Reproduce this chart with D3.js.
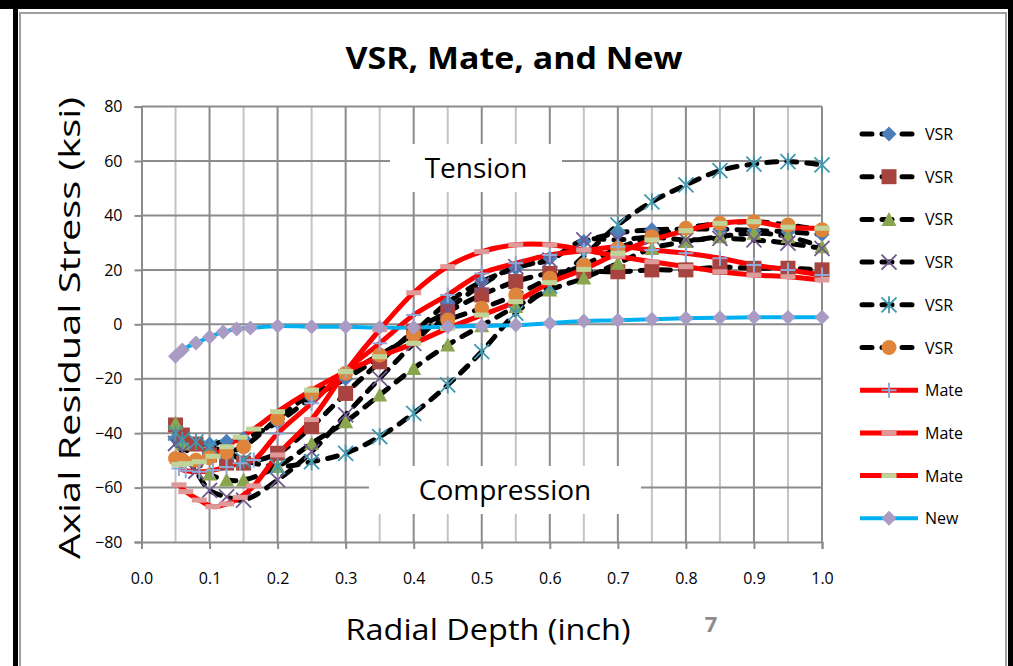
<!DOCTYPE html>
<html>
<head>
<meta charset="utf-8">
<script src="https://cdn.jsdelivr.net/npm/d3@7"></script>
<style>
  body { margin: 0; background: #fff; }
  svg { display: block; }
  text { font-family: "Open Sans", "Noto Sans", sans-serif; }
</style>
</head>
<body>
<div id="chart"></div>
<script>
// depths (inch) where the markers sit
const vsrDepth = [0.05, 0.06, 0.08, 0.1, 0.125, 0.15, 0.2, 0.25, 0.3, 0.35, 0.4, 0.45, 0.5, 0.55, 0.6, 0.65, 0.7, 0.75, 0.8, 0.85, 0.9, 0.95, 1.0];
const mateDepth = [0.055, 0.065, 0.085, 0.105, 0.125, 0.145, 0.165, 0.2, 0.25, 0.3, 0.35, 0.4, 0.45, 0.5, 0.55, 0.6, 0.65, 0.7, 0.75, 0.8, 0.85, 0.9, 0.95, 1.0];
const newDepth = [0.05, 0.06, 0.08, 0.1, 0.12, 0.14, 0.16, 0.2, 0.25, 0.3, 0.35, 0.4, 0.45, 0.5, 0.55, 0.6, 0.65, 0.7, 0.75, 0.8, 0.85, 0.9, 0.95, 1.0];

// axial residual stress (ksi)
const vsr1 = [-42, -43, -44, -44, -43, -42, -36, -27, -20, -12, -3, 8, 15.7, 20.6, 24.3, 30.4, 33.5, 34.7, 35, 35, 34.5, 34, 33];
const vsr2 = [-37, -40.7, -44, -48, -51, -51, -47.4, -37.6, -25.4, -13.8, -2.7, 4.6, 10.8, 15.7, 18.7, 19.5, 19.3, 20, 20, 21, 20.6, 20.6, 20];
const vsr3 = [-36.4, -44, -50, -55, -57.2, -57.2, -52.3, -43.8, -35.8, -26, -16.2, -7.6, -0.5, 6.5, 12.6, 17, 22.4, 27.9, 30.4, 32.2, 33.5, 32.2, 28.5];
const vsr4 = [-43.8, -46.8, -54, -61, -63.4, -64.6, -57.2, -46.8, -33.3, -19.9, -7, 5.3, 14.5, 21.2, 23.6, 31, 31, 32, 31, 31.6, 31, 29.8, 27.9];
const vsr5 = [-40, -42.5, -43.2, -45, -47, -49.9, -52.3, -50.5, -47.4, -41.3, -32.7, -22.3, -10, 4.1, 14, 25, 36.5, 45, 51.2, 56.5, 58.9, 59.8, 58.6];
const vsr6 = [-49.3, -50, -50, -49, -47, -45, -34.6, -25.4, -18, -11.3, -3.9, 1.6, 5.9, 10.8, 16.9, 21.8, 27.9, 32.2, 35.3, 37.1, 37.7, 36.5, 34.7];
const mate1 = [-53, -53.8, -54.2, -53.6, -52.4, -51.1, -49.9, -40.1, -29, -17, -7, 3.4, 10.8, 18.7, 22.4, 25.5, 27, 28.5, 27.3, 26.1, 24.3, 21.8, 20, 18.1];
const mate2 = [-59, -61.5, -64.6, -67, -66, -63.6, -59.4, -48, -35, -17.4, -2, 11.6, 21.2, 26.7, 29.2, 29.2, 27.3, 25, 23, 21.2, 19.3, 18.1, 17.5, 16.3];
const mate3 = [-51.5, -51.2, -50.5, -48.5, -45, -41.5, -38.5, -32.1, -24.2, -17.4, -11.9, -7, -1.5, 3.4, 8.3, 15.3, 20.2, 26.1, 31, 34.4, 37.1, 37.7, 35.7, 35.3];
const newSeries = [-11.7, -9.4, -6.9, -4.7, -2.8, -1.7, -1.4, -0.6, -0.9, -0.9, -1.2, -1.2, -0.9, -0.6, -0.3, 0.4, 1.2, 1.5, 1.9, 2.2, 2.4, 2.6, 2.6, 2.6];

const xTicks = [0, 0.1, 0.2, 0.3, 0.4, 0.5, 0.6, 0.7, 0.8, 0.9, 1.0];
const yTicks = [-80, -60, -40, -20, 0, 20, 40, 60, 80];

const W = 1013, H = 666;

const series = [
  {name: "VSR",  depth: vsrDepth,  values: vsr1, line: "vsr", marker: "diamond",  color: "#4a7dba"},
  {name: "VSR",  depth: vsrDepth,  values: vsr2, line: "vsr", marker: "square",   color: "#a8443f"},
  {name: "VSR",  depth: vsrDepth,  values: vsr3, line: "vsr", marker: "triangle", color: "#89a54e"},
  {name: "VSR",  depth: vsrDepth,  values: vsr4, line: "vsr", marker: "x",        color: "#71588f"},
  {name: "VSR",  depth: vsrDepth,  values: vsr5, line: "vsr", marker: "star",     color: "#4198af"},
  {name: "VSR",  depth: vsrDepth,  values: vsr6, line: "vsr", marker: "circle",   color: "#de853b"},
  {name: "Mate", depth: mateDepth, values: mate1, line: "mate", marker: "plus",   color: "#8eaad8"},
  {name: "Mate", depth: mateDepth, values: mate2, line: "mate", marker: "bar",    color: "#dd9a99"},
  {name: "Mate", depth: mateDepth, values: mate3, line: "mate", marker: "bar",    color: "#c0d49a"},
  {name: "New",  depth: newDepth,  values: newSeries, line: "new", marker: "diamond", color: "#a99bc4"}
];

const svg = d3.select("#chart").append("svg")
  .attr("width", W).attr("height", H)
  .attr("viewBox", [0, 0, W, H]);

// frame
svg.append("rect").attr("x", 0).attr("y", 0).attr("width", W).attr("height", 9).attr("fill", "#000");
svg.append("rect").attr("x", 13).attr("y", 0).attr("width", 5).attr("height", H).attr("fill", "#000");
svg.append("rect").attr("x", 1008).attr("y", 0).attr("width", 5).attr("height", H).attr("fill", "#000");
svg.append("path").attr("d", `M20,${H}V13H1006V${H}`).attr("fill", "none").attr("stroke", "#a0a0a0").attr("stroke-width", 2);

const x = d3.scaleLinear().domain([0, 1]).range([141.5, 822]);
const y = d3.scaleLinear().domain([-80, 80]).range([542, 106.6]);

// gridlines
const grid = svg.append("g");
grid.selectAll(".minor").data(d3.range(0.05, 1, 0.1)).join("line")
  .attr("x1", d => x(d)).attr("x2", d => x(d))
  .attr("y1", y(80)).attr("y2", y(-80))
  .attr("stroke", "#c4c4c4").attr("stroke-width", 2);
grid.selectAll(".major").data(xTicks.slice(1)).join("line")
  .attr("x1", d => x(d)).attr("x2", d => x(d))
  .attr("y1", y(80)).attr("y2", y(-80))
  .attr("stroke", "#8c8c8c").attr("stroke-width", 2);
grid.selectAll(".h").data(yTicks.slice(1)).join("line")
  .attr("x1", x(0)).attr("x2", x(1))
  .attr("y1", d => y(d)).attr("y2", d => y(d))
  .attr("stroke", "#8c8c8c").attr("stroke-width", 2);

// axes
const yAxis = svg.append("g").attr("transform", `translate(${x(0)},0)`)
  .call(d3.axisLeft(y).tickValues(yTicks).tickSize(7).tickPadding(12).tickFormat(d3.format("d")));
const xAxis = svg.append("g").attr("transform", `translate(0,${y(-80)})`)
  .call(d3.axisBottom(x).tickValues(xTicks).tickSize(7).tickPadding(24).tickFormat(d3.format(".1f")));
[yAxis, xAxis].forEach(a => {
  a.select(".domain").attr("stroke", "#8c8c8c").attr("stroke-width", 2);
  a.selectAll(".tick line").attr("stroke", "#8c8c8c").attr("stroke-width", 2);
  a.selectAll(".tick text").attr("fill", "#000").style("font-size", "16px")
    .style("font-family", "'Open Sans', sans-serif");
});

// region labels with white boxes
const boxes = [
  {text: "Tension", cx: 476, cy: 168, w: 172, h: 48},
  {text: "Compression", cx: 505, cy: 490, w: 272, h: 48}
];
boxes.forEach(b => {
  svg.append("rect").attr("x", b.cx - b.w / 2).attr("y", b.cy - b.h / 2)
    .attr("width", b.w).attr("height", b.h).attr("fill", "#fff");
  svg.append("text").attr("x", b.cx).attr("y", b.cy + 10).attr("text-anchor", "middle")
    .style("font-size", "28px").text(b.text);
});

const lineGen = d3.line().x(d => x(d[0])).y(d => y(d[1])).curve(d3.curveCatmullRom.alpha(0.5));

const lineStyle = {
  vsr:  {stroke: "#000", width: 5, dash: "10,10"},
  mate: {stroke: "#ff0000", width: 5, dash: null},
  new:  {stroke: "#00b0f0", width: 4, dash: null}
};

function styleLine(sel, kind) {
  const st = lineStyle[kind];
  sel.attr("fill", "none").attr("stroke", st.stroke).attr("stroke-width", st.width)
    .attr("stroke-linecap", st.dash ? "round" : "butt")
    .attr("stroke-dasharray", st.dash);
}

function drawMarker(g, type, color) {
  const s = 7.5;
  switch (type) {
    case "diamond":
      g.append("path").attr("d", `M0,${-s}L${s},0L0,${s}L${-s},0Z`).attr("fill", color); break;
    case "square":
      g.append("rect").attr("x", -s).attr("y", -s).attr("width", 2 * s).attr("height", 2 * s).attr("fill", color); break;
    case "triangle":
      g.append("path").attr("d", `M0,${-s}L${s},${s - 1}L${-s},${s - 1}Z`).attr("fill", color); break;
    case "circle":
      g.append("circle").attr("r", s).attr("fill", color); break;
    case "x":
      g.append("path").attr("d", `M${-s},${-s}L${s},${s}M${-s},${s}L${s},${-s}`)
        .attr("stroke", color).attr("stroke-width", 1.8); break;
    case "star":
      g.append("path").attr("d", `M${-s},${-s}L${s},${s}M${-s},${s}L${s},${-s}M0,${-s - 1}V${s + 1}`)
        .attr("stroke", color).attr("stroke-width", 1.8); break;
    case "plus":
      g.append("path").attr("d", `M${-s},0H${s}M0,${-s}V${s}`)
        .attr("stroke", color).attr("stroke-width", 2); break;
    case "bar":
      g.append("rect").attr("x", -s).attr("y", -2.5).attr("width", 2 * s).attr("height", 5).attr("fill", color); break;
  }
}

// lines first, markers on top
const plot = svg.append("g");
series.forEach(s => {
  const pts = d3.zip(s.depth, s.values);
  plot.append("path").datum(pts).attr("d", lineGen).call(styleLine, s.line);
});
series.forEach(s => {
  const pts = d3.zip(s.depth, s.values);
  plot.append("g").selectAll("g").data(pts).join("g")
    .attr("transform", d => `translate(${x(d[0])},${y(d[1])})`)
    .each(function () { drawMarker(d3.select(this), s.marker, s.color); });
});

// legend
const legend = svg.append("g");
series.forEach((s, i) => {
  const ly = 134 + i * 42.7;
  const row = legend.append("g").attr("transform", `translate(0,${ly})`);
  row.append("line").attr("x1", s.line === "vsr" ? 862 : 860).attr("x2", s.line === "vsr" ? 916 : 918)
    .attr("y1", 0).attr("y2", 0).call(styleLine, s.line);
  drawMarker(row.append("g").attr("transform", "translate(889,0)"), s.marker, s.color);
  row.append("text").attr("x", 925).attr("y", 6).style("font-size", "16px").text(s.name);
});

// titles
svg.append("text").attr("x", 514).attr("y", 69).attr("text-anchor", "middle")
  .style("font-size", "30px").style("font-weight", "bold")
  .attr("textLength", 337).attr("lengthAdjust", "spacingAndGlyphs").text("VSR, Mate, and New");
svg.append("text").attr("transform", "translate(80,328) rotate(-90)").attr("text-anchor", "middle")
  .style("font-size", "29px").attr("textLength", 462).attr("lengthAdjust", "spacingAndGlyphs")
  .text("Axial Residual Stress (ksi)");
svg.append("text").attr("x", 488).attr("y", 640).attr("text-anchor", "middle")
  .style("font-size", "29px").attr("textLength", 285).attr("lengthAdjust", "spacingAndGlyphs")
  .text("Radial Depth (inch)");
svg.append("text").attr("x", 711).attr("y", 632).attr("text-anchor", "middle")
  .style("font-size", "22px").style("font-weight", "bold").attr("fill", "#8c8c8c").text("7");
</script>
</body>
</html>
